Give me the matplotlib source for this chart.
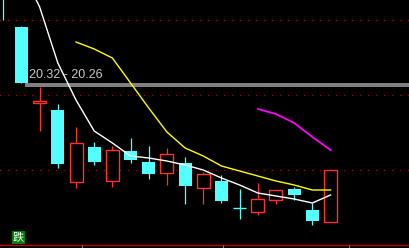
import matplotlib.pyplot as plt
import numpy as np

# candles, index 0 is only partly on screen at the left edge
opens  = [21.40, 20.87, 20.11, 20.04, 19.32, 19.67, 19.33, 19.63, 19.52, 19.41,
          19.51, 19.26, 19.33, 19.06, 19.02, 19.14, 19.25, 19.04, 18.92]
highs  = [21.45, 20.88, 20.27, 20.10, 19.87, 19.72, 19.68, 19.76, 19.68, 19.66,
          19.57, 19.42, 19.39, 19.25, 19.31, 19.24, 19.27, 19.11, 19.44]
lows   = [20.94, 20.31, 19.83, 19.46, 19.26, 19.49, 19.27, 19.51, 19.35, 19.29,
          19.10, 19.10, 19.11, 18.95, 18.99, 19.10, 19.14, 18.89, 18.92]
closes = [21.20, 20.31, 20.13, 19.50, 19.71, 19.52, 19.64, 19.54, 19.40, 19.60,
          19.28, 19.40, 19.13, 19.06, 19.15, 19.24, 19.19, 18.93, 19.44]

ma5  = [None, 21.44, 21.07, 20.51, 20.14, 19.83, 19.71, 19.58, 19.56, 19.53,
        19.49, 19.44, 19.36, 19.29, 19.21, 19.18, 19.15, 19.11, 19.19]
ma10 = [None, None, None, None, 20.72, 20.65, 20.56, 20.31, 20.06, 19.82,
        19.66, 19.58, 19.48, 19.43, 19.38, 19.33, 19.29, 19.24, 19.24]
ma20 = [None] * 14 + [20.05, 20.00, 19.91, 19.77, 19.64]

label_text = "20.32 - 20.26"
label_price = 20.29
grid_prices = [20.94, 20.19, 19.44]

RED = '#ff3232'
CYAN = '#54ffff'

fig = plt.figure(figsize=(4.10, 2.48), dpi=100, facecolor='black')
ax = fig.add_axes([0, 0, 1, 1], facecolor='black')
ax.set_axis_off()

step = 18.18  # pixels per candle
ax.set_xlim(-3.3 / step, (410 - 3.3) / step)
ax.set_ylim(18.66, 21.14)

for p in grid_prices:
    ax.axhline(p, color='#b00000', lw=0.72, ls=(0, (1, 7)), antialiased=False, zorder=1)

ax.axhline(label_price, xmin=27 / 410, xmax=1, color='#808080', lw=1.5,
           antialiased=False, zorder=1)
ax.text(29 / 410, 1 - 75 / 248, label_text, transform=ax.transAxes, color='#c8c8c8',
        fontsize=9, family='Liberation Sans', va='center', ha='left')

w = 13 / step
x = np.arange(len(opens))
for i in x:
    o, h, l, c = opens[i], highs[i], lows[i], closes[i]
    top, bot = max(o, c), min(o, c)
    if c > o:
        ax.vlines(i, top, h, color=RED, lw=0.9, zorder=3)
        ax.vlines(i, l, bot, color=RED, lw=0.9, zorder=3)
        ax.bar(i, top - bot, w, bottom=bot, facecolor='black', edgecolor=RED,
               lw=1.0, zorder=3)
    elif c == o:
        ax.vlines(i, l, h, color=CYAN, lw=0.9, zorder=3)
        ax.hlines(o, i - w / 2, i + w / 2, color=CYAN, lw=1.0, zorder=3)
    else:
        ax.vlines(i, l, h, color=CYAN, lw=0.9, zorder=3)
        ax.bar(i, top - bot, w, bottom=bot, color=CYAN, lw=0, zorder=3)

def line(vals, color, lw):
    xs = [i for i, v in enumerate(vals) if v is not None]
    ys = [v for v in vals if v is not None]
    ax.plot(xs, ys, color=color, lw=lw, zorder=4)

line(ma5, 'white', 1.0)
line(ma10, '#ffff00', 1.0)
line(ma20, '#ff00ff', 1.3)

# bottom border and little ticks
ax.axhline(18.66 + 3 * 0.01, color='#c00000', lw=1.0, zorder=2)
for px in [82, 223, 349]:
    ax.vlines((px - 3.3) / step, 18.66, 18.69, color='#808080', lw=0.8, zorder=2)

ax.text(13 / 410, 1 - 237.5 / 248, "跌", transform=ax.transAxes, color='white',
        fontsize=8, family=['Noto Sans CJK SC', 'DejaVu Sans'], va='center', ha='left',
        bbox=dict(boxstyle='square,pad=0.1', facecolor='#008000', edgecolor='none'))

fig.savefig('out.png', dpi=100, facecolor='black')
